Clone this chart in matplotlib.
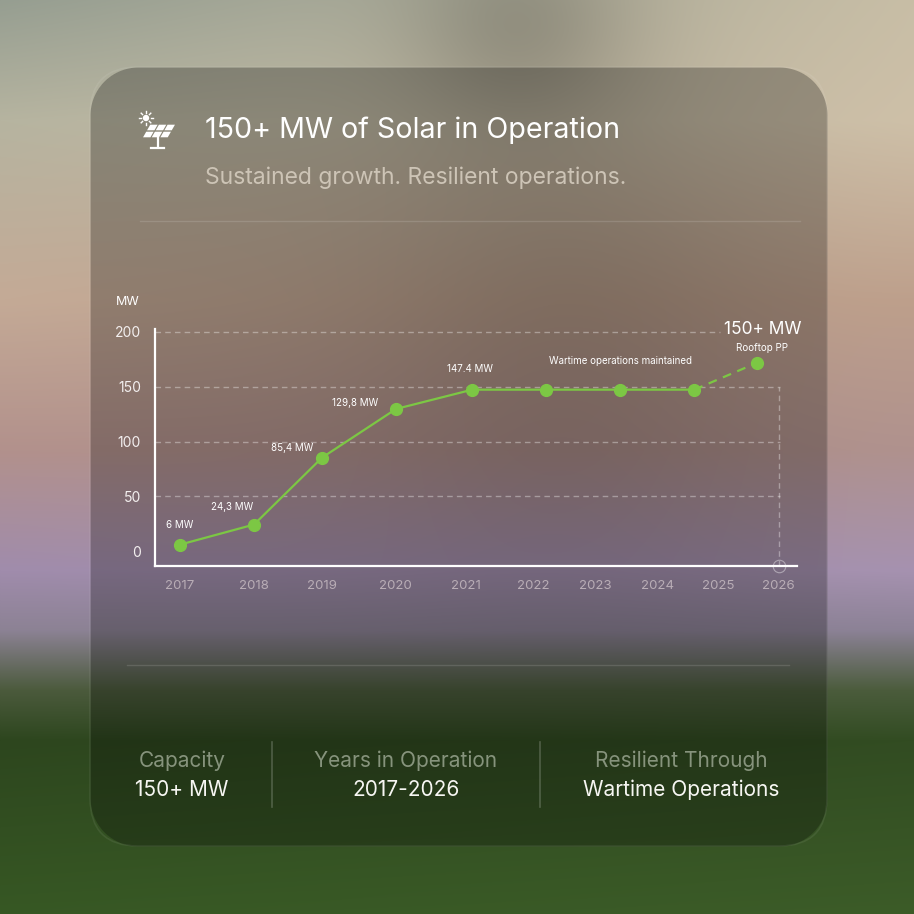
import numpy as np
import matplotlib.pyplot as plt
from matplotlib.patches import FancyBboxPatch, Polygon, Circle

plt.rcParams['font.family'] = ['Inter', 'DejaVu Sans']

# chart data (positions, in "slot" units)
years = ['2017', '2018', '2019', '2020', '2021', '2022', '2023', '2024', '2025', '2026']
tick_pos = [0, 1, 1.92, 2.91, 3.86, 4.77, 5.61, 6.45, 7.28, 8.09]
point_pos = [0, 1, 1.92, 2.92, 3.95, 4.95, 5.95, 6.95, 7.80]
capacity = [6, 24.3, 85.4, 129.8, 147.4, 147.4, 147.4, 147.4, 172]
y_ticks = [0, 50, 100, 150, 200]

# (point index, text, dx px, dy px, size)
notes = [
    (0, '6 MW', 0, 20, 7),
    (1, '24,3 MW', -22, 18, 7),
    (2, '85,4 MW', -30, 10, 7),
    (3, '129,8 MW', -41, 6, 7),
    (4, '147.4 MW', -2, 21, 7),
    (6, 'Wartime operations maintained', 0, 29, 7),
    (8, 'Rooftop PP', 5, 15, 7),
    (8, '150+ MW', 6, 33, 12.5),
]

stats = [('Capacity', '150+ MW'), ('Years in Operation', '2017-2026'),
         ('Resilient Through', 'Wartime Operations')]

GREEN = '#7cc744'
W = H = 914

# ---- blurred photo-like background ----
yy, xx = np.mgrid[0:H, 0:W].astype(float)
stops = [0, 120, 300, 450, 570, 630, 690, 740, 914]
left = np.array([(150, 158, 145), (182, 180, 160), (196, 170, 150), (178, 145, 140),
                 (160, 140, 172), (140, 130, 148), (75, 90, 60), (45, 70, 30), (55, 88, 36)]) / 255
right = np.array([(200, 190, 166), (206, 192, 168), (190, 160, 140), (176, 146, 142),
                  (166, 146, 176), (140, 130, 150), (75, 92, 60), (50, 76, 34), (60, 92, 40)]) / 255
img = np.zeros((H, W, 3))
t = xx / W
for c in range(3):
    lc = np.interp(yy[:, 0], stops, left[:, c])[:, None]
    rc = np.interp(yy[:, 0], stops, right[:, c])[:, None]
    img[..., c] = lc * (1 - t) + rc * t
blob = np.exp(-((xx - 520) ** 2 / (2 * 80 ** 2) + (yy - 30) ** 2 / (2 * 70 ** 2)))
img *= (1 - 0.18 * blob)[..., None]
blob2 = np.exp(-((xx - 560) ** 2 / (2 * 130 ** 2) + (yy - 330) ** 2 / (2 * 170 ** 2)))
img *= (1 - 0.10 * blob2)[..., None]

# card darkening (rounded rect)
x0, x1, y0, y1, r = 90, 827, 67, 846, 48
dx = np.maximum.reduce([x0 + r - xx, np.zeros_like(xx), xx - (x1 - r)])
dy = np.maximum.reduce([y0 + r - yy, np.zeros_like(yy), yy - (y1 - r)])
d = np.sqrt(dx ** 2 + dy ** 2) - r
inside = np.clip(0.5 - d, 0, 1)
img *= (1 - 0.26 * inside)[..., None]
img = np.clip(img, 0, 1)

fig = plt.figure(figsize=(9.14, 9.14), dpi=100)
bg = fig.add_axes([0, 0, 1, 1])
bg.imshow(img, extent=(0, W, H, 0), interpolation='bilinear')
bg.set_xlim(0, W)
bg.set_ylim(H, 0)
bg.axis('off')

bg.add_patch(FancyBboxPatch((x0, y0), x1 - x0, y1 - y0,
                            boxstyle='round,pad=0,rounding_size=48',
                            fc='none', ec=(1, 1, 1, 0.07), lw=1.2))

# icon: sun + solar panel
def par(u, v):
    return (150 + 26 * u - 8 * v, 124 + 14 * v)

for row in range(2):
    for col in range(3):
        u0, u1 = col / 3 + 0.025, (col + 1) / 3 - 0.025
        v0, v1 = row / 2 + 0.05, (row + 1) / 2 - 0.05
        bg.add_patch(Polygon([par(u0, v0), par(u1, v0), par(u1, v1), par(u0, v1)],
                             closed=True, fc='white', ec='none'))
bg.add_patch(Circle((146, 118), 3.2, fc='white', ec='none'))
for a in np.linspace(0, 2 * np.pi, 8, endpoint=False):
    bg.plot([146 + 4.8 * np.cos(a), 146 + 6.8 * np.cos(a)],
            [118 + 4.8 * np.sin(a), 118 + 6.8 * np.sin(a)], color='white', lw=1)
bg.plot([157.5, 157.5], [138, 147], color='white', lw=1.6)
bg.plot([151, 164], [147.5, 147.5], color='white', lw=1.6)

bg.text(205, 130, '150+ MW of Solar in Operation', fontsize=20.6, color='white',
        ha='left', va='center')
bg.text(205, 178, 'Sustained growth. Resilient operations.', fontsize=16.5,
        color='#cdc4b6', ha='left', va='center')
bg.plot([140, 800], [221, 221], color=(1, 1, 1, 0.13), lw=1)
bg.plot([127, 789], [665, 665], color=(1, 1, 1, 0.13), lw=1)
bg.text(128, 302, 'MW', fontsize=9, color='white', ha='center', va='center')

# bottom stats
centers = [182, 406, 681]
for cx, (lab, val) in zip(centers, stats):
    bg.text(cx, 761, lab, fontsize=15, color='#86937c', ha='center', va='center')
    bg.text(cx, 790, val, fontsize=15, color='#f6f6f2', ha='center', va='center')
for vx in [272, 540]:
    bg.plot([vx, vx], [742, 807], color=(1, 1, 1, 0.2), lw=1.2)

# ---- chart ----
k = 1.096
ybot, ytop = (551.2 - 566) / k, (551.2 - 315) / k
ax = fig.add_axes([155 / W, 1 - 566 / H, (797 - 155) / W, (566 - 315) / H])
ax.patch.set_alpha(0)
ax.set_xlim(-25 / 74, 617 / 74)
ax.set_ylim(ybot, ytop)

for s in ['top', 'right']:
    ax.spines[s].set_visible(False)
for s in ['left', 'bottom']:
    ax.spines[s].set_color('white')
    ax.spines[s].set_linewidth(1.6)
ax.spines['left'].set_bounds(ybot, 203)

grid_kw = dict(color=(1, 1, 1, 0.35), lw=1, ls=(0, (4, 3)), zorder=1)
for v in y_ticks[1:4]:
    ax.axhline(v, xmin=0, xmax=0.9735, **grid_kw)
ax.axhline(y_ticks[-1], xmin=0, xmax=0.88, **grid_kw)
ax.axvline(tick_pos[-1], ymin=0, ymax=(150 - ybot) / (ytop - ybot), **grid_kw)
ax.plot(tick_pos[-1], ybot, 'o', ms=9, mfc='none', mec=(1, 1, 1, 0.4), mew=0.8,
        clip_on=False, zorder=2)

ax.plot(point_pos[:8], capacity[:8], color=GREEN, lw=1.6, marker='o', ms=8.5, zorder=4)
ax.plot(point_pos[7:], capacity[7:], color=GREEN, lw=1.6, ls=(0, (4, 3)), zorder=3)
ax.plot(point_pos[8], capacity[8], 'o', color=GREEN, ms=8.5, zorder=4)

for i, txt, ddx, ddy, fs in notes:
    ax.annotate(txt, (point_pos[i], capacity[i]), xytext=(ddx, ddy),
                textcoords='offset pixels', ha='center', va='center',
                fontsize=fs, color='white')

ax.set_yticks(y_ticks)
ax.set_xticks(tick_pos, years)
ax.tick_params(axis='y', length=0, pad=10, labelsize=10, labelcolor='#f3efef')
ax.tick_params(axis='x', length=0, pad=10, labelsize=9.5, labelcolor='#b9adb6')

fig.savefig('out.png', dpi=100)
